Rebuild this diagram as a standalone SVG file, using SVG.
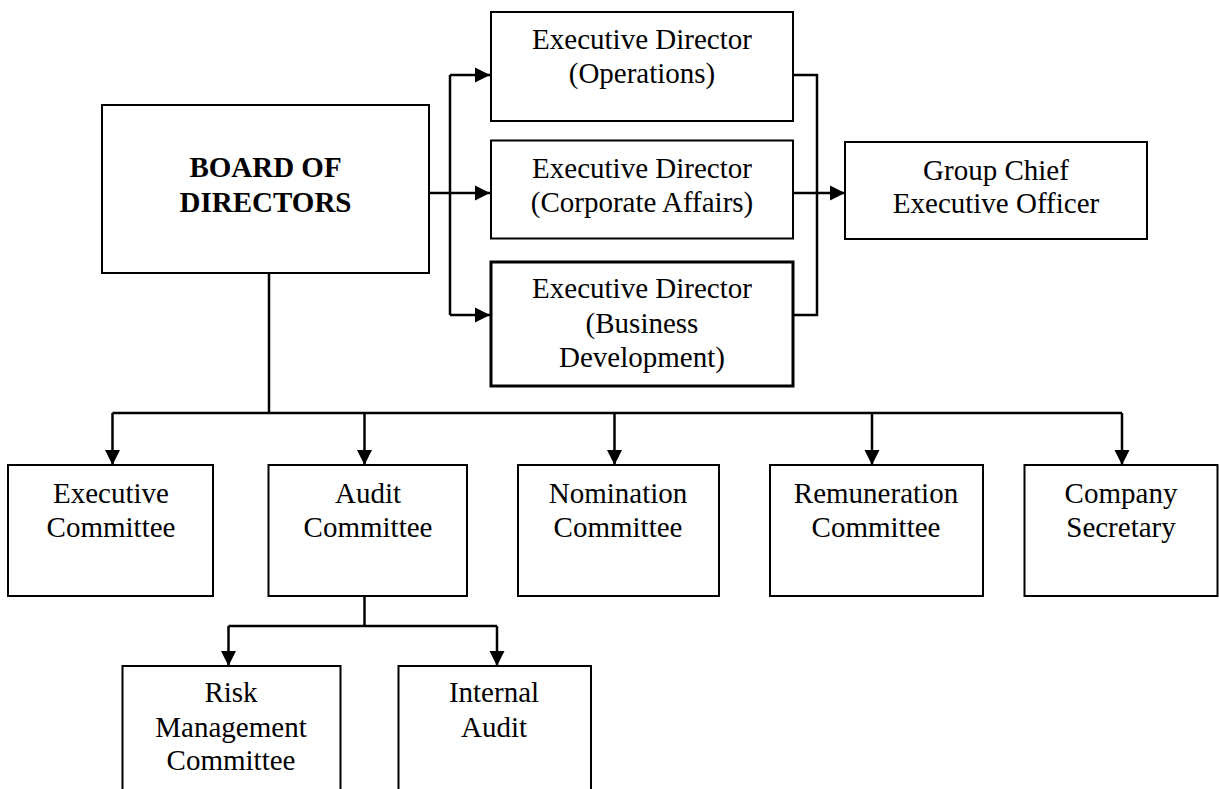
<svg xmlns="http://www.w3.org/2000/svg" width="1219" height="789" viewBox="0 0 1219 789">
<style>
.box{fill:#fff;stroke:#000;stroke-width:2}
.thick{stroke-width:3}
.t{font-family:"Liberation Serif","Times New Roman",serif;font-size:29px;fill:#000;text-anchor:middle}
.b{font-weight:bold}
.c{fill:none;stroke:#000;stroke-width:2.5}
</style>
<defs>
<marker id="ah" markerUnits="userSpaceOnUse" markerWidth="16" markerHeight="16" refX="15" refY="8" orient="auto">
<path d="M0,0.5 L15,8 L0,15.5 z" fill="#000"/>
</marker>
</defs>
<rect width="1219" height="789" fill="#fff"/>
<g id="connectors">
<path class="c" d="M429,193 H490" marker-end="url(#ah)"/>
<path class="c" d="M450,75 V315"/>
<path class="c" d="M450,75 H490" marker-end="url(#ah)"/>
<path class="c" d="M450,315 H490" marker-end="url(#ah)"/>
<path class="c" d="M793,75 H817 V315 H793"/>
<path class="c" d="M793,193 H845" marker-end="url(#ah)"/>
<path class="c" d="M269,273 V413"/>
<path class="c" d="M112.5,413 H1122"/>
<path class="c" d="M112.5,413 V465" marker-end="url(#ah)"/>
<path class="c" d="M364.5,413 V465" marker-end="url(#ah)"/>
<path class="c" d="M614.5,413 V465" marker-end="url(#ah)"/>
<path class="c" d="M872,413 V465" marker-end="url(#ah)"/>
<path class="c" d="M1122,413 V465" marker-end="url(#ah)"/>
<path class="c" d="M364.5,596 V626"/>
<path class="c" d="M228.5,626 H497"/>
<path class="c" d="M228.5,626 V666" marker-end="url(#ah)"/>
<path class="c" d="M497,626 V666" marker-end="url(#ah)"/>
</g>
<g id="board">
<rect class="box" x="102" y="105" width="327" height="168"/>
<text class="t b" x="265.5" y="177">BOARD OF</text>
<text class="t b" x="265.5" y="212">DIRECTORS</text>
</g>
<g id="ed-operations">
<rect class="box" x="491" y="12" width="302" height="109"/>
<text class="t" x="642" y="49">Executive Director</text>
<text class="t" x="642" y="83">(Operations)</text>
</g>
<g id="ed-corporate">
<rect class="box" x="491" y="140.5" width="302" height="98"/>
<text class="t" x="642" y="178">Executive Director</text>
<text class="t" x="642" y="212">(Corporate Affairs)</text>
</g>
<g id="ed-business">
<rect class="box thick" x="491" y="262" width="302" height="124"/>
<text class="t" x="642" y="298">Executive Director</text>
<text class="t" x="642" y="333">(Business</text>
<text class="t" x="642" y="367">Development)</text>
</g>
<g id="gceo">
<rect class="box" x="845" y="142" width="302" height="97"/>
<text class="t" x="996" y="180">Group Chief</text>
<text class="t" x="996" y="213">Executive Officer</text>
</g>
<g id="exec-committee">
<rect class="box" x="8" y="465" width="205" height="131"/>
<text class="t" x="111" y="503">Executive</text>
<text class="t" x="111" y="537">Committee</text>
</g>
<g id="audit-committee">
<rect class="box" x="268.5" y="465" width="198.5" height="131"/>
<text class="t" x="368" y="503">Audit</text>
<text class="t" x="368" y="537">Committee</text>
</g>
<g id="nomination-committee">
<rect class="box" x="518" y="465" width="201" height="131"/>
<text class="t" x="618" y="503">Nomination</text>
<text class="t" x="618" y="537">Committee</text>
</g>
<g id="remuneration-committee">
<rect class="box" x="770" y="465" width="213" height="131"/>
<text class="t" x="876" y="503">Remuneration</text>
<text class="t" x="876" y="537">Committee</text>
</g>
<g id="company-secretary">
<rect class="box" x="1024.5" y="465" width="193" height="131"/>
<text class="t" x="1121" y="503">Company</text>
<text class="t" x="1121" y="537">Secretary</text>
</g>
<g id="risk-management">
<rect class="box" x="122.5" y="666" width="218" height="140"/>
<text class="t" x="231" y="702">Risk</text>
<text class="t" x="231" y="737">Management</text>
<text class="t" x="231" y="770">Committee</text>
</g>
<g id="internal-audit">
<rect class="box" x="398.5" y="666" width="192.5" height="140"/>
<text class="t" x="494" y="702">Internal</text>
<text class="t" x="494" y="737">Audit</text>
</g>
</svg>
